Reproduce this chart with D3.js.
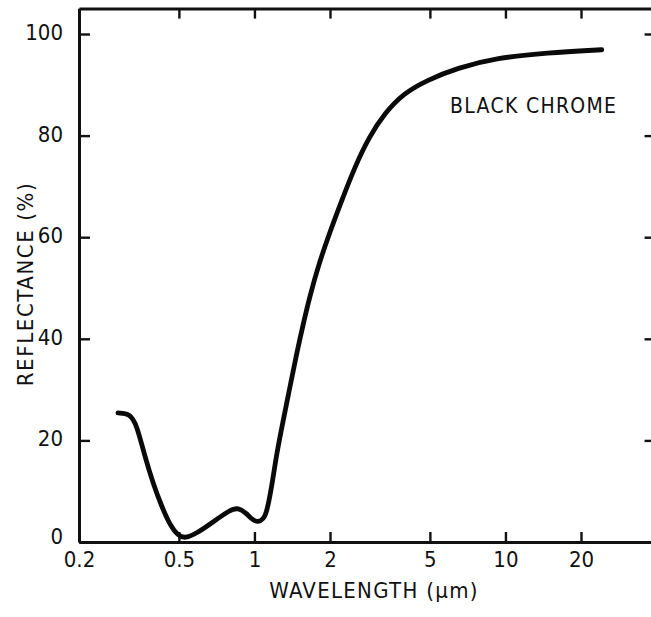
<!DOCTYPE html>
<html>
<head>
<meta charset="utf-8">
<script src="https://cdn.jsdelivr.net/npm/d3@7"></script>
<style>
  html, body { margin: 0; padding: 0; background: #fff; }
  svg { display: block; }
  .lbl { font-family: "Liberation Sans Narrow", "DejaVu Sans Condensed", "Liberation Sans", sans-serif; fill: #111; }
</style>
</head>
<body>
<svg id="chart" width="651" height="617"></svg>
<script>
// Spectral reflectance of black chrome
const wavelength = [0.286, 0.319, 0.340, 0.366, 0.395, 0.427, 0.461, 0.497, 0.529, 0.589,
                    0.686, 0.799, 0.862, 0.931, 0.985, 1.036, 1.085, 1.119, 1.172, 1.227,
                    1.303, 1.386, 1.473, 1.566, 1.665, 1.80, 1.98, 2.23, 2.51, 2.86,
                    3.30, 3.95, 4.87, 6.41, 9.25, 14.6, 24.2];
const reflectance = [25.4, 25.3, 23.0, 16.8, 11.5, 7.0, 3.3, 1.2, 0.7, 1.7,
                     4.0, 6.3, 6.8, 5.6, 4.3, 3.9, 4.5, 5.8, 10.9, 17.5,
                     24.0, 30.6, 37.1, 43.0, 48.5, 54.5, 60.5, 67.3, 73.8, 79.7,
                     84.4, 88.4, 90.9, 93.3, 95.3, 96.3, 96.9];
const xTicks = [0.2, 0.5, 1, 2, 5, 10, 20];
const xTickLabels = ["0.2", "0.5", "1", "2", "5", "10", "20"];
const yTicks = [0, 20, 40, 60, 80, 100];
const xDomain = [0.2, 40];
const yDomain = [0, 105];
const seriesLabel = "BLACK CHROME";
const xTitle = "WAVELENGTH (\u00b5m)";
const yTitle = "REFLECTANCE (%)";

const svg = d3.select("#chart");
const plotLeft = 79, plotBottom = 542;
const decade = 251;
const plotRight = plotLeft + decade * Math.log10(xDomain[1] / xDomain[0]);
const plotTop = plotBottom - 508 * yDomain[1] / 100;

const x = d3.scaleLog().domain(xDomain).range([plotLeft, plotRight]);
const y = d3.scaleLinear().domain(yDomain).range([plotBottom, plotTop]);

const frameW = 3;

// bottom axis, ticks pointing inward
const gx = svg.append("g").attr("transform", `translate(0,${plotBottom})`)
  .call(d3.axisBottom(x).tickValues(xTicks).tickSizeInner(-10).tickSizeOuter(0)
        .tickPadding(12).tickFormat((d, i) => xTickLabels[i]));
// top axis
const gxt = svg.append("g").attr("transform", `translate(0,${plotTop})`)
  .call(d3.axisTop(x).tickValues(xTicks).tickSizeInner(-10).tickSizeOuter(0).tickFormat(""));
// left axis
const gy = svg.append("g").attr("transform", `translate(${plotLeft},0)`)
  .call(d3.axisLeft(y).tickValues(yTicks).tickSizeInner(-11).tickSizeOuter(0).tickPadding(16));
// right axis (ticks only reach into view)
const gyr = svg.append("g").attr("transform", `translate(${plotRight},0)`)
  .call(d3.axisRight(y).tickValues(yTicks.slice(1)).tickSizeInner(-12).tickSizeOuter(0).tickFormat(""));

[gx, gxt, gy, gyr].forEach(g => {
  g.select(".domain").attr("stroke", "#111").attr("stroke-width", frameW);
  g.selectAll(".tick line").attr("stroke", "#111").attr("stroke-width", 2.4);
  g.selectAll(".tick text").attr("class", "lbl").attr("font-size", 22).attr("fill", "#111");
});
gy.selectAll(".tick text").attr("dy", "0.25em");
gy.selectAll(".tick").filter(d => d === 0).select("text").attr("dy", "0.05em");
gx.selectAll(".tick text").attr("dy", "0.6em");

// data curve
const pts = wavelength.map((w, i) => [w, reflectance[i]]);
svg.append("path")
  .datum(pts)
  .attr("fill", "none")
  .attr("stroke", "#0a0a0a")
  .attr("stroke-width", 4.8)
  .attr("stroke-linecap", "round")
  .attr("stroke-linejoin", "round")
  .attr("d", d3.line().x(d => x(d[0])).y(d => y(d[1])).curve(d3.curveBasis));

// series label
svg.append("text").attr("class", "lbl")
  .attr("x", 450).attr("y", 113)
  .attr("font-size", 21).attr("letter-spacing", 1.3)
  .text(seriesLabel);

// axis titles
svg.append("text").attr("class", "lbl")
  .attr("x", 374).attr("y", 598).attr("text-anchor", "middle")
  .attr("font-size", 22).attr("letter-spacing", 1.3)
  .text(xTitle);

svg.append("text").attr("class", "lbl")
  .attr("transform", "translate(33,284) rotate(-90)")
  .attr("text-anchor", "middle")
  .attr("font-size", 22).attr("letter-spacing", 1.6)
  .text(yTitle);
</script>
</body>
</html>
